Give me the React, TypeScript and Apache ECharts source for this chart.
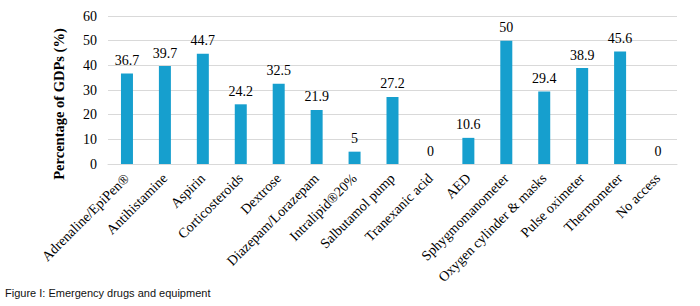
import React, { useEffect, useRef } from "react";
import * as echarts from "echarts";

const categories = [
  "Adrenaline/EpiPen®",
  "Antihistamine",
  "Aspirin",
  "Corticosteroids",
  "Dextrose",
  "Diazepam/Lorazepam",
  "Intralipid®20%",
  "Salbutamol pump",
  "Tranexanic acid",
  "AED",
  "Sphygmomanometer",
  "Oxygen cylinder & masks",
  "Pulse oximeter",
  "Thermometer",
  "No access",
];
const values = [36.7, 39.7, 44.7, 24.2, 32.5, 21.9, 5, 27.2, 0, 10.6, 50, 29.4, 38.9, 45.6, 0];
const yTicks = { min: 0, max: 60, interval: 10 };
const yTitle = "Percentage of GDPs (%)";
const caption = "Figure I: Emergency drugs and equipment";

export default function App() {
  const ref = useRef<HTMLDivElement>(null);
  useEffect(() => {
    document.body.style.margin = "0";
    const chart = echarts.init(ref.current!, null, { renderer: "svg" });
    const serif = "'Liberation Serif', 'Times New Roman', serif";
    chart.setOption({
      animation: false,
      grid: { left: 108, right: 23, top: 16, bottom: 142, containLabel: false },
      xAxis: {
        type: "category",
        data: categories,
        axisTick: { show: false },
        axisLine: { lineStyle: { color: "#d9d9d9", width: 1 } },
        axisLabel: {
          interval: 0,
          rotate: 45,
          margin: 12,
          fontFamily: serif,
          fontSize: 14,
          color: "#000",
        },
      },
      yAxis: {
        type: "value",
        min: yTicks.min,
        max: yTicks.max,
        interval: yTicks.interval,
        axisLine: { show: false },
        axisTick: { show: false },
        splitLine: { lineStyle: { color: "#d9d9d9", width: 1 } },
        axisLabel: { fontFamily: serif, fontSize: 14, color: "#000", margin: 11 },
      },
      series: [
        {
          type: "bar",
          data: values,
          barWidth: 12,
          itemStyle: { color: "#169fce" },
          label: {
            show: true,
            position: "top",
            distance: 6,
            fontFamily: serif,
            fontSize: 14,
            color: "#000",
          },
        },
      ],
      graphic: [
        {
          type: "text",
          x: 59,
          y: 104,
          rotation: Math.PI / 2,
          style: {
            text: yTitle,
            font: `bold 14.5px ${serif}`,
            fill: "#000",
            align: "center",
            verticalAlign: "middle",
          },
        },
        {
          type: "text",
          left: 5,
          top: 287,
          style: {
            text: caption,
            font: "11px 'Liberation Sans', Arial, sans-serif",
            fill: "#111",
          },
        },
      ],
    });
    return () => chart.dispose();
  }, []);
  return <div ref={ref} style={{ width: 700, height: 306 }} />;
}
